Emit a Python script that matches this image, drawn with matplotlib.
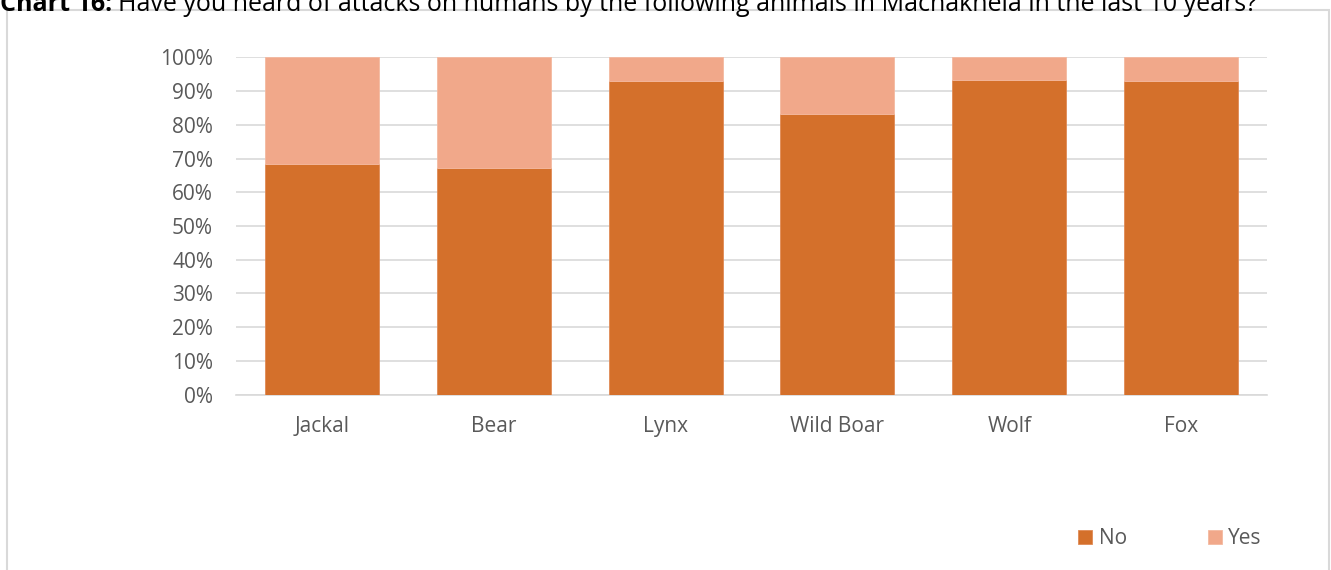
import matplotlib.pyplot as plt
import numpy as np
from matplotlib.patches import Rectangle
from matplotlib.ticker import PercentFormatter

plt.rcParams["font.family"] = ["Open Sans", "DejaVu Sans"]

animals = ["Jackal", "Bear", "Lynx", "Wild Boar", "Wolf", "Fox"]
no_share = [68.4, 67.2, 92.9, 83.3, 93.4, 92.9]
yes_share = [100 - v for v in no_share]

title_label = "Chart 16:"
title_text = "Have you heard of attacks on humans by the following animals in Machakhela in the last 10 years?"

no_color = "#D4702B"
yes_color = "#F1A88A"
grid_color = "#D9D9D9"
text_color = "#595959"

W, H = 1331, 570
fig = plt.figure(figsize=(W / 100, H / 100), dpi=100)

# chart frame
fig.patches.append(Rectangle((7 / W, -0.05), 1322 / W, 1 - 10 / H + 0.05,
                             transform=fig.transFigure, fill=False,
                             edgecolor=grid_color, linewidth=1.5))

# title: bold label followed by the question, partly cut at the top edge
title_y = 1 - 11 / H
t1 = fig.text(0.0, title_y, title_label, fontsize=18, fontweight="bold",
              va="baseline", ha="left", color="black")
fig.canvas.draw()
x_end = t1.get_window_extent().x1 / W
fig.text(x_end + 6 / W, title_y, title_text, fontsize=18,
         va="baseline", ha="left", color="black")

ax = fig.add_axes([236 / W, 1 - 394.7 / H, (1267 - 236) / W, (394.7 - 57.3) / H])

x = np.arange(len(animals))
ax.bar(x, no_share, width=0.663, color=no_color, label="No", zorder=3,
       edgecolor="#E08A55", linewidth=0.6)
ax.bar(x, yes_share, width=0.663, bottom=no_share, color=yes_color, label="Yes",
       zorder=3, edgecolor="#F4B9A0", linewidth=0.6)

ax.set_xlim(-0.5, len(animals) - 0.5)
ax.set_ylim(0, 100)
ax.set_yticks(np.arange(0, 101, 10))
ax.yaxis.set_major_formatter(PercentFormatter(decimals=0))
ax.set_xticks(x)
ax.set_xticklabels(animals)

ax.grid(axis="y", color=grid_color, linewidth=1.2, zorder=0)
for side in ["top", "right", "left"]:
    ax.spines[side].set_visible(False)
ax.spines["bottom"].set_color(grid_color)
ax.spines["bottom"].set_linewidth(1.2)
ax.tick_params(axis="both", length=0, labelsize=15, colors=text_color)
ax.tick_params(axis="y", pad=16.5)
ax.tick_params(axis="x", pad=15)

leg = fig.legend(loc="center", bbox_to_anchor=(1170 / W, 1 - 539 / H),
                 ncol=2, frameon=False, fontsize=15, handlelength=0.67,
                 handleheight=0.67, handletextpad=0.3, columnspacing=3.9)
for t in leg.get_texts():
    t.set_color(text_color)

fig.savefig("out.png", dpi=100)
